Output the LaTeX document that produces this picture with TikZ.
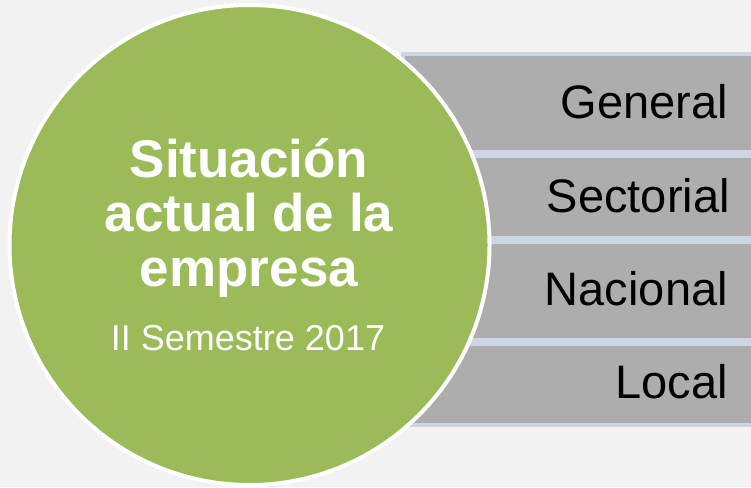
\documentclass[tikz,border=0pt]{standalone}
\usepackage{fontspec}
\setmainfont{Liberation Sans}
\usetikzlibrary{positioning}
\definecolor{CBack}{HTML}{F2F2F2}
\definecolor{CGreen}{HTML}{9BBB59}
\definecolor{CBar}{HTML}{ADADAD}
\definecolor{CEdge}{HTML}{CDD5E4}

\begin{document}
\begin{tikzpicture}[x=1pt, y=-1pt,
    bar/.style={fill=CBar, draw=CEdge, line width=4pt},
    barlabel/.style={anchor=base east, inner sep=0pt, font=\fontsize{47}{50}\selectfont}]
    % Background
    \useasboundingbox (0, 0) rectangle (751, 487);
    \fill[CBack] (0, 0) rectangle (751, 487);

    % Bars behind the circle
    \draw[bar] (403, 54) rectangle (765, 151.5);
    \draw[bar] (403, 155.5) rectangle (765, 238);
    \draw[bar] (403, 242) rectangle (765, 339.5);
    \draw[bar] (403, 343.5) rectangle (765, 425);

    % Bar labels
    \node[barlabel] (gen) at (728, 118) {General};
    \node[barlabel] (sec) at (730, 212) {Sectorial};
    \node[barlabel] (nac) at (728, 305) {Nacional};
    \node[barlabel] (loc) at (728, 398) {Local};

    % Circle
    \node[circle, fill=CGreen, draw=white, line width=4pt, minimum size=480pt, inner sep=0pt]
        (circ) at (249.5, 245) {};

    % Title and period
    \node[anchor=base, inner sep=0pt, text=white, font=\bfseries\fontsize{53}{55}\selectfont]
        (ttl1) at (249, 177) {Situación};
    \node[anchor=base, inner sep=0pt, text=white, font=\bfseries\fontsize{53}{55}\selectfont]
        (ttl2) at (249, 231) {actual de la};
    \node[anchor=base, inner sep=0pt, text=white, font=\bfseries\fontsize{53}{55}\selectfont]
        (ttl3) at (249, 286) {empresa};
    \node[anchor=base, inner sep=0pt, text=white, font=\fontsize{36}{40}\selectfont]
        (sub) at (248, 350) {II Semestre 2017};
\end{tikzpicture}
\end{document}
